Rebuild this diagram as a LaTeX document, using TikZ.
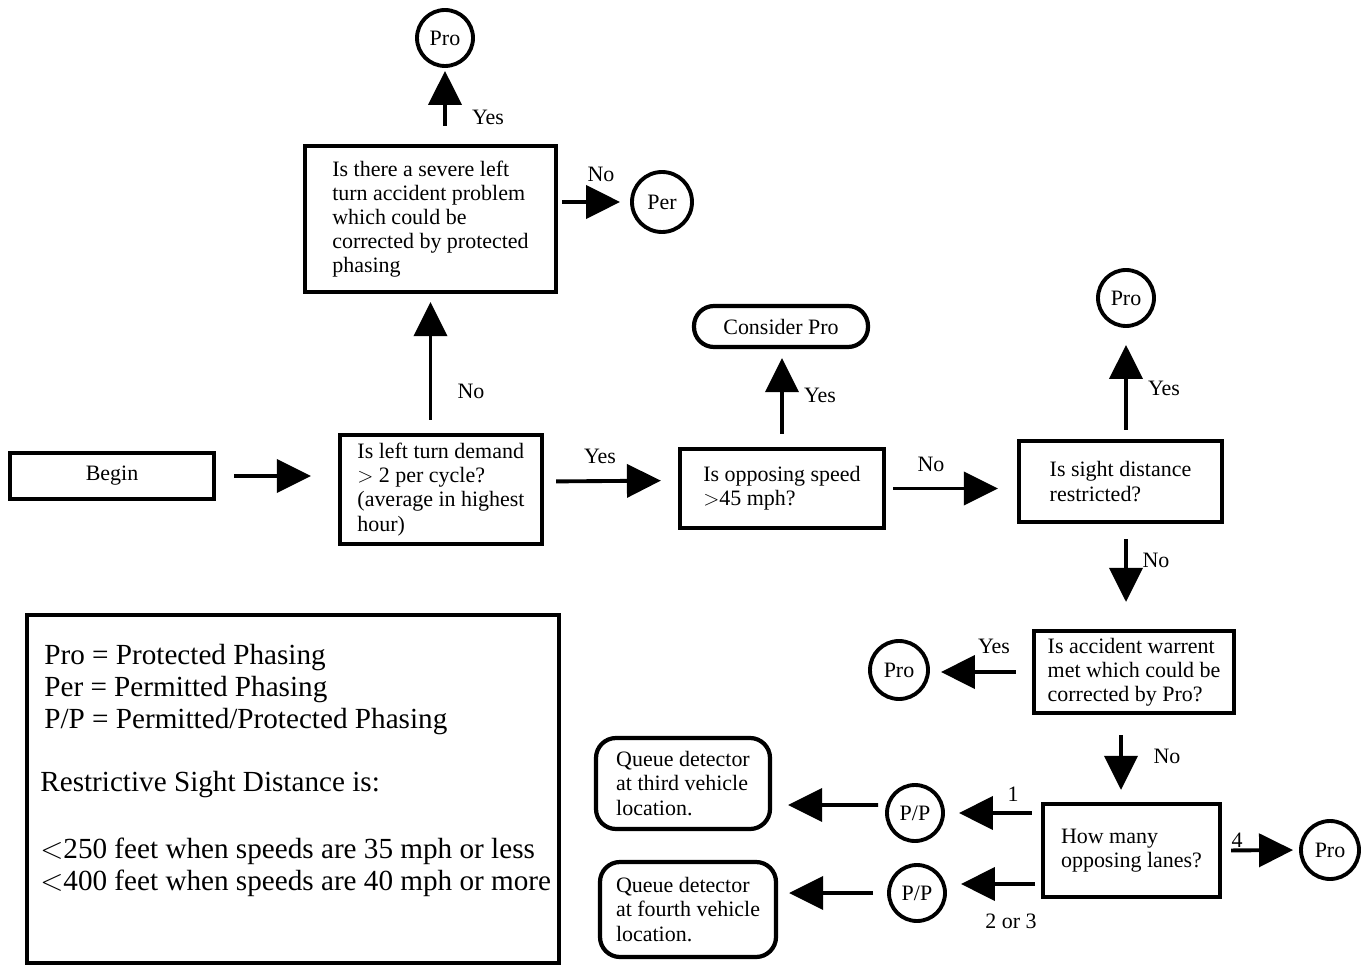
\documentclass[tikz,border=0pt]{standalone}
\usepackage{fontspec}
\setmainfont{Liberation Serif}
\usetikzlibrary{arrows.meta}

\begin{document}
\begin{tikzpicture}[
  x=1cm, y=1cm,
  every node/.style={inner sep=1pt, font=\fontsize{12.5}{13.7}\selectfont},
  box/.style={rectangle, draw, line width=2.4pt, align=left},
  rbox/.style={rectangle, draw, line width=2.4pt, rounded corners=0.4cm, align=left},
  res/.style={circle, draw, line width=2.2pt, minimum size=1.12cm, inner sep=0pt},
  lbl/.style={inner sep=1pt},
  arrow/.style={draw, line width=2.2pt, -{Triangle[length=0.68cm, width=0.66cm]}}]

  \useasboundingbox (0,0) rectangle (27.28,19.30);

  % decision boxes
  \node[box, align=center, minimum width=4.08cm, minimum height=0.92cm] (begin) at (2.24,9.78) {Begin};
  \node[box, minimum width=4.04cm, minimum height=2.18cm] (q1) at (8.82,9.51)
    {Is left turn demand\\$>$ 2 per cycle?\\(average in highest\\hour)};
  \node[box, minimum width=5.02cm, minimum height=2.92cm] (q2) at (8.61,14.92)
    {Is there a severe left\\turn accident problem\\which could be\\corrected by protected\\phasing};
  \node[box, minimum width=4.08cm, minimum height=1.58cm] (q3) at (15.64,9.53)
    {Is opposing speed\\$>$45 mph?};
  \node[box, minimum width=4.06cm, minimum height=1.62cm] (q4) at (22.41,9.67)
    {Is sight distance\\restricted?};
  \node[box, minimum width=4.00cm, minimum height=1.64cm] (q5) at (22.68,5.86)
    {Is accident warrent\\met which could be\\corrected by Pro?};
  \node[box, minimum width=3.54cm, minimum height=1.86cm] (q6) at (22.63,2.29)
    {How many\\opposing lanes?};

  % outcomes
  \node[res] (pro1) at (8.90,18.54) {Pro};
  \node[res, minimum size=1.20cm] (per) at (13.24,15.26) {Per};
  \node[res] (pro2) at (22.52,13.34) {Pro};
  \node[res, minimum size=1.16cm] (pro3) at (17.98,5.90) {Pro};
  \node[res, minimum size=1.16cm] (pro4) at (26.60,2.30) {Pro};
  \node[res] (pp1) at (18.30,3.04) {P/P};
  \node[res] (pp2) at (18.34,1.44) {P/P};
  \node[rbox, minimum width=3.48cm, minimum height=0.82cm] (consider) at (15.62,12.77) {Consider Pro};
  \node[rbox, minimum width=3.48cm, minimum height=1.82cm] (queue1) at (13.66,3.63)
    {Queue detector\\at third vehicle\\location.};
  \node[rbox, minimum width=3.52cm, minimum height=1.90cm] (queue2) at (13.76,1.11)
    {Queue detector\\at fourth vehicle\\location.};

  % arrows
  \draw[arrow, shorten <=0.36cm, shorten >=0.54cm] (begin.east) -- (begin.east -| q1.west);
  \draw[arrow, shorten <=0.26cm, shorten >=0.16cm] (q1.north -| q2.south) -- (q2.south);
  \draw[arrow, shorten <=0.36cm, shorten >=0.06cm] (q2.north -| pro1.south) -- (pro1.south);
  \draw[arrow, shorten <=0.08cm, shorten >=0.20cm] (q2.east |- per.west) -- (per.west);
  \draw[arrow, shorten <=0.24cm, shorten >=0.34cm] ([yshift=0.16cm]q1.east) -- ([yshift=0.16cm]q3.west);
  \draw[arrow, shorten <=0.26cm, shorten >=0.18cm] (q3.north) -- (q3.north |- consider.south);
  \draw[arrow, shorten <=0.14cm, shorten >=0.38cm] (q3.east) -- (q3.east -| q4.west);
  \draw[arrow, shorten <=0.18cm, shorten >=0.34cm] (q4.north -| pro2.south) -- (pro2.south);
  \draw[arrow, shorten <=0.30cm, shorten >=0.54cm] (q4.south -| pro2.south) -- (q5.north -| pro2.south);
  \draw[arrow, shorten <=0.32cm, shorten >=0.22cm] (q5.west) -- (q5.west -| pro3.east);
  \draw[arrow, shorten <=0.40cm, shorten >=0.24cm] ([xshift=-0.26cm]q5.south) -- ([xshift=-0.21cm]q6.north);
  \draw[arrow, shorten <=0.18cm, shorten >=0.12cm] (q6.east) -- (pro4.west);
  \draw[arrow, shorten <=0.18cm, shorten >=0.28cm] (q6.west |- pp1.east) -- (pp1.east);
  \draw[arrow, shorten <=0.14cm, shorten >=0.32cm] ([yshift=0.16cm]pp1.west) -- ([yshift=-0.43cm]queue1.east);
  \draw[arrow, shorten <=0.12cm, shorten >=0.28cm] ([yshift=-0.67cm]q6.west) -- ([yshift=0.18cm]pp2.east);
  \draw[arrow, shorten <=0.28cm, shorten >=0.22cm] (pp2.west) -- (pp2.west -| queue2.east);

  % labels printed inside the picture
  \node[lbl] (no1)  at (9.42,11.48) {No};
  \node[lbl] (yes1) at (9.76,16.96) {Yes};
  \node[lbl] (no2)  at (12.02,15.82) {No};
  \node[lbl] (yes2) at (12.00,10.18) {Yes};
  \node[lbl] (yes3) at (16.40,11.40) {Yes};
  \node[lbl] (no3)  at (18.62,10.02) {No};
  \node[lbl] (yes4) at (23.28,11.54) {Yes};
  \node[lbl] (no4)  at (23.12,8.10) {No};
  \node[lbl] (yes5) at (19.88,6.38) {Yes};
  \node[lbl] (no5)  at (23.34,4.18) {No};
  \node[lbl] (one)  at (20.26,3.42) {1};
  \node[lbl] (two)  at (20.22,0.88) {2 or 3};
  \node[lbl] (four) at (24.74,2.50) {4};

  % key
  \node[box, line width=2pt, minimum width=10.64cm, minimum height=6.96cm] (legend) at (5.86,3.52) {};
  \node[anchor=north west, align=left, inner sep=0pt, font=\fontsize{16.6}{18.2}\selectfont] (key) at (0.80,6.42)
    {\hspace*{0.08cm}Pro = Protected Phasing\\
     \hspace*{0.08cm}Per = Permitted Phasing\\
     \hspace*{0.08cm}P/P = Permitted/Protected Phasing\\[0.62cm]
     Restrictive Sight Distance is:\\[0.70cm]
     $<$250 feet when speeds are 35 mph or less\\
     $<$400 feet when speeds are 40 mph or more};
\end{tikzpicture}
\end{document}
